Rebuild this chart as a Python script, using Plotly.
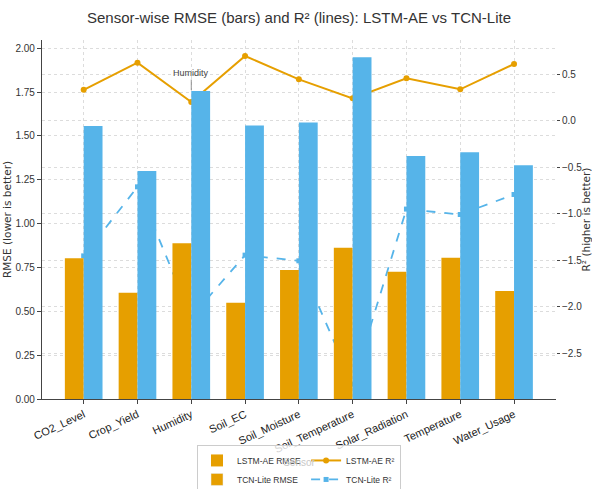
import plotly.graph_objects as go

sensors = ["CO2_Level", "Crop_Yield", "Humidity", "Soil_EC", "Soil_Moisture",
           "Soil_Temperature", "Solar_Radiation", "Temperature", "Water_Usage"]
lstm_rmse = [0.802, 0.606, 0.888, 0.549, 0.736, 0.863, 0.726, 0.806, 0.616]
tcn_rmse = [1.557, 1.300, 1.756, 1.559, 1.576, 1.949, 1.386, 1.407, 1.333]
lstm_r2 = [0.333, 0.624, 0.201, 0.696, 0.445, 0.241, 0.456, 0.338, 0.610]
tcn_r2 = [-1.452, -0.710, -2.108, -1.444, -1.505, -2.830, -0.949, -1.007, -0.792]
rmse_ticks = [0.0, 0.25, 0.5, 0.75, 1.0, 1.25, 1.5, 1.75, 2.0]
r2_ticks = [-2.5, -2.0, -1.5, -1.0, -0.5, 0.0, 0.5]

ORANGE = "#E69F00"
BLUE = "#56B4E9"
SANS = "Liberation Sans, Arial, sans-serif"

fig = go.Figure()

# R² lines on base axis (drawn beneath the bars)
fig.add_trace(go.Scatter(x=sensors, y=lstm_r2, name="LSTM-AE R²", mode="lines+markers",
                         line=dict(color=ORANGE, width=2), marker=dict(symbol="circle", size=6, color=ORANGE),
                         yaxis="y", legendgroup="r2", legendrank=3))
fig.add_trace(go.Scatter(x=sensors, y=tcn_r2, name="TCN-Lite R²", mode="lines+markers",
                         line=dict(color=BLUE, width=1.8, dash="dash"), marker=dict(symbol="square", size=5, color=BLUE),
                         yaxis="y", legendgroup="r2", legendrank=4))

# RMSE bars on the overlaying axis (drawn above the lines)
fig.add_trace(go.Bar(x=sensors, y=lstm_rmse, name="LSTM-AE RMSE", marker=dict(color=ORANGE, line=dict(width=0)),
                     width=0.35, offset=-0.35, yaxis="y2", legendgroup="rmse", legendrank=1))
fig.add_trace(go.Bar(x=sensors, y=tcn_rmse, name="TCN-Lite RMSE", marker=dict(color=BLUE, line=dict(width=0)),
                     width=0.35, offset=0.0, yaxis="y2", legendgroup="rmse", showlegend=False))
# legend entry as drawn in the reference (swatch shown in orange)
fig.add_trace(go.Bar(x=[None], y=[None], name="TCN-Lite RMSE", marker=dict(color=ORANGE),
                     yaxis="y2", legendgroup="rmse", legendrank=2, hoverinfo="skip"))

fig.add_annotation(x="Humidity", y=0.33, xref="x", yref="y", text="Humidity", showarrow=True,
                   arrowhead=0, arrowwidth=0.8, arrowcolor="#777", ax=0, ay=-17,
                   font=dict(family=SANS, size=9, color="#444"))

grid = dict(showgrid=True, gridcolor="#dcdcdc", gridwidth=0.8, griddash="dot")

fig.update_layout(
    width=592, height=489,
    margin=dict(l=42, r=36, t=40, b=90, autoexpand=False),
    paper_bgcolor="white", plot_bgcolor="white",
    title=dict(text="Sensor-wise RMSE (bars) and R² (lines): LSTM-AE vs TCN-Lite",
               x=0.5, xanchor="center", xref="paper", y=1 - 18 / 489, yref="container", yanchor="middle",
               font=dict(family=SANS, size=15, color="#333")),
    barmode="overlay",
    showlegend=True,
    legend=dict(orientation="h", traceorder="grouped", x=0.5, xanchor="center", y=-0.128, yanchor="top",
                bgcolor="rgba(255,255,255,0.8)", bordercolor="#cccccc", borderwidth=1,
                font=dict(family=SANS, size=8.5, color="#333"), tracegroupgap=2, itemwidth=30),
    xaxis=dict(type="category", range=[-0.775, 8.78], tickangle=-25, ticks="outside", ticklen=4,
               tickcolor="#444", showline=True, linecolor="#444", linewidth=1.2,
               tickfont=dict(family=SANS, size=11, color="#222"),
               title=dict(text="Sensor", font=dict(family=SANS, size=10, color="#c8c8c8"), standoff=4),
               automargin=False, **grid),
    yaxis=dict(side="right", range=[-2.99, 0.868], tickmode="array", tickvals=r2_ticks, tickformat=".1f",
               ticks="outside", ticklen=3, tickcolor="#444", showline=False, zeroline=False,
               tickfont=dict(family=SANS, size=10, color="#333"),
               title=dict(text="R² (higher is better)", font=dict(family="DejaVu Sans", size=10.5, color="#333"), standoff=3),
               automargin=False, **grid),
    yaxis2=dict(overlaying="y", side="left", range=[0, 2.047], tickmode="array", tickvals=rmse_ticks, tickformat=".2f",
                ticks="outside", ticklen=4, tickcolor="#444", showline=True, linecolor="#444", linewidth=1.2,
                zeroline=False, tickfont=dict(family=SANS, size=10, color="#333"),
                title=dict(text="RMSE (lower is better)", font=dict(family="DejaVu Sans", size=10.5, color="#333"), standoff=1),
                automargin=False, **grid),
)

fig.write_html("out.html")
